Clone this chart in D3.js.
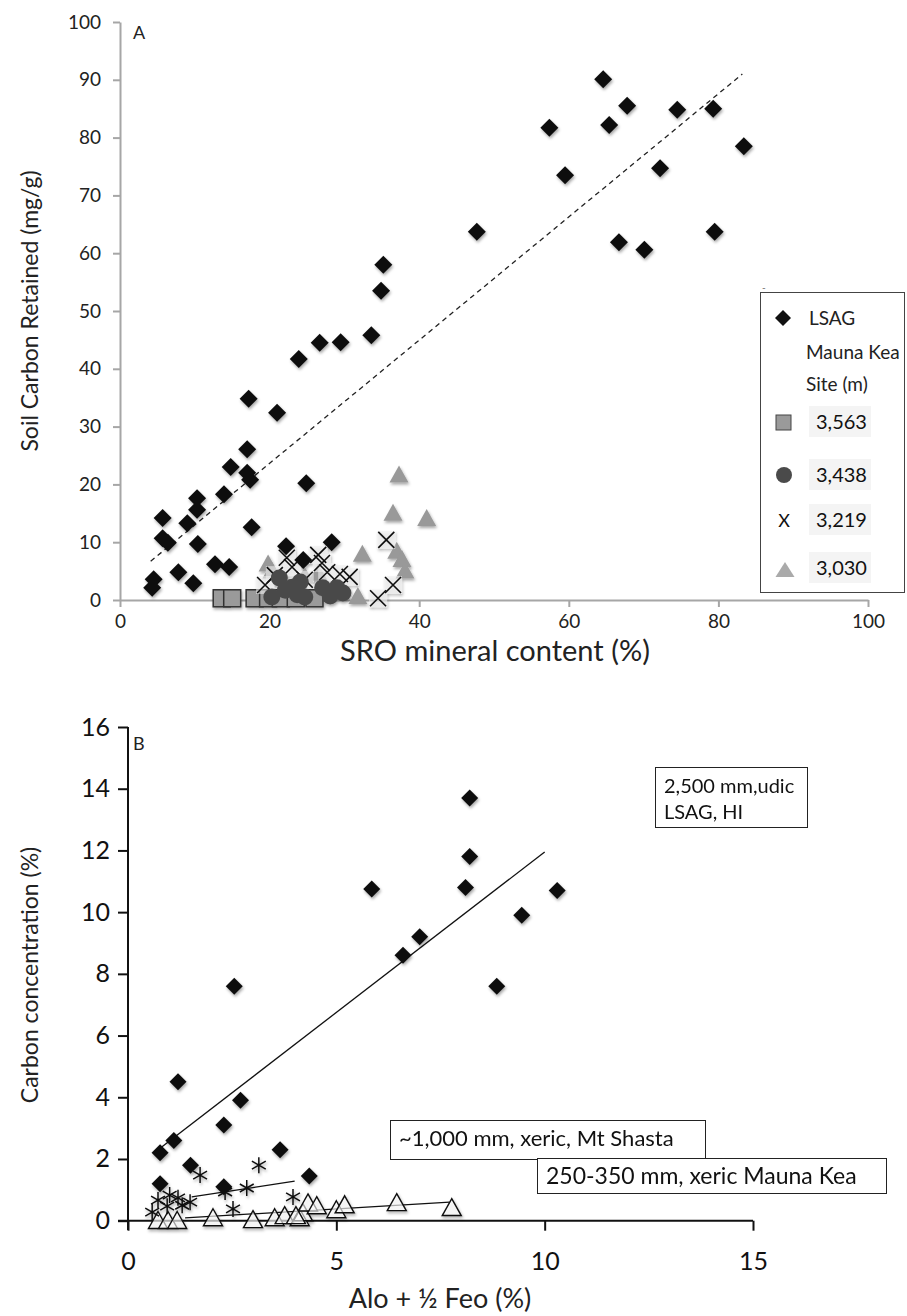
<!DOCTYPE html>
<meta charset="utf-8">
<title>Soil carbon vs SRO minerals</title>
<style>
  body { margin: 0; background: #fff; font-family: Lato, "Open Sans", sans-serif; }
  svg { display: block; }
  .tickA text { font-size: 19px; fill: #222; font-family: Lato, sans-serif; }
  .tickB text { font-size: 25px; fill: #111; font-family: Lato, sans-serif; }
</style>
<body>
<script src="https://cdn.jsdelivr.net/npm/d3@7"></script>
<script>
  // ---------- panel A data (SRO mineral %, carbon retained mg/g) ----------
  var lsagA = [
    [64.6,90.1],[67.8,85.5],[65.4,82.2],[57.4,81.7],[74.5,84.8],[79.3,85.0],[83.4,78.5],
    [59.5,73.5],[72.2,74.7],[47.7,63.7],[66.7,61.9],[70.1,60.6],[79.5,63.7],
    [35.2,58.0],[34.9,53.5],[33.6,45.8],[29.5,44.6],[26.7,44.5],[23.9,41.7],
    [17.2,34.8],[21.0,32.4],[17.0,26.1],[14.8,23.0],[17.0,22.0],[17.4,20.8],
    [13.9,18.3],[10.3,17.6],[10.3,15.6],[5.7,14.2],[9.0,13.3],[24.9,20.2],
    [17.6,12.6],[5.7,10.7],[6.4,9.9],[10.4,9.7],[7.8,4.8],[9.8,2.9],[12.7,6.2],
    [14.6,5.7],[4.3,2.1],[4.5,3.6],[22.2,9.3],[24.5,6.9],[28.3,10.0]
  ];
  var site3563 = [[13.6,0.3],[15.0,0.3],[18.0,0.3],[19.8,0.3],[21.5,0.3],[23.5,0.3],[26.0,0.3]];
  var site3438 = [[21.3,3.8],[20.3,0.5],[23.0,2.2],[24.1,3.1],[23.7,0.9],[24.7,0.5],
    [27.1,2.1],[29.0,2.1],[28.1,0.7],[29.8,1.2],[22.1,1.7]];
  var site3219 = [[19.4,2.6],[22.3,7.3],[23.0,5.7],[26.5,7.8],[27.0,6.4],[27.7,4.8],
    [29.4,4.5],[30.7,4.0],[35.6,10.4],[36.5,2.6],[34.5,0.3],[24.7,3.5],[20.7,4.3]];
  var site3030 = [[37.3,21.3],[36.5,14.7],[41.0,13.8],[32.4,7.6],[37.0,8.1],[37.7,6.7],
    [38.1,4.7],[31.8,0.3],[19.8,5.9],[20.3,4.7],[26.5,4.3],[24.7,3.8],[24.1,1.4],[29.4,1.7]];
  var trendA = [[4.1,6.7],[83.2,91.0]];
  var ticksAx = [0,20,40,60,80,100];
  var ticksAy = [0,10,20,30,40,50,60,70,80,90,100];
  var legendA = ["3,563","3,438","3,219","3,030"];

  // ---------- panel B data (Alo + 1/2 Feo %, carbon %) ----------
  var lsagB = [[8.2,13.7],[8.2,11.8],[8.1,10.8],[10.3,10.7],[5.85,10.75],[9.45,9.9],
    [7.0,9.2],[6.6,8.6],[8.85,7.6],[2.55,7.6],[1.2,4.5],[2.7,3.9],[2.3,3.1],[1.1,2.6],
    [0.77,2.2],[3.65,2.3],[1.5,1.8],[4.35,1.45],[0.77,1.2],[2.3,1.1]];
  var shastaB = [[1.73,1.48],[3.14,1.8],[2.85,1.06],[2.52,0.38],[3.96,0.77],[2.33,0.93],
    [1.2,0.74],[0.72,0.67],[0.58,0.28],[1.49,0.6],[0.94,0.47],[1.0,0.83],[1.3,0.5]];
  var maunaKeaB = [[0.72,-0.07],[0.96,-0.07],[1.18,-0.07],[2.04,0.02],[3.0,-0.04],
    [3.52,0.02],[3.76,0.09],[4.12,0.02],[4.2,0.18],[4.32,0.5],[4.03,0.09],[4.53,0.41],
    [5.0,0.28],[5.2,0.44],[6.45,0.51],[7.77,0.35]];
  var trendLsagB = [[0.77,2.35],[10.0,11.95]];
  var trendShastaB = [[1.53,0.77],[4.0,1.28]];
  var trendMaunaKeaB = [[1.37,0.09],[7.72,0.6]];
  var ticksBx = [0,5,10,15];
  var ticksBy = [0,2,4,6,8,10,12,14,16];

  var svg = d3.select("body").append("svg")
      .attr("width", 907)
      .attr("height", 1316);

  var defs = svg.append("defs");
  defs.append("filter").attr("id", "shadow")
      .attr("x", "-50%").attr("y", "-50%").attr("width", "200%").attr("height", "200%")
    .append("feDropShadow")
      .attr("dx", 1).attr("dy", 2).attr("stdDeviation", 1.6)
      .attr("flood-color", "#000").attr("flood-opacity", 0.35);

  // marker paths centred on 0,0
  function diamond(r) { return "M0," + (-r) + "L" + r + ",0L0," + r + "L" + (-r) + ",0Z"; }
  function triangle(w, h) { return "M0," + (-h * 2 / 3) + "L" + (w / 2) + "," + (h / 3) + "L" + (-w / 2) + "," + (h / 3) + "Z"; }
  function cross(r) { return "M" + (-r) + "," + (-r) + "L" + r + "," + r + "M" + r + "," + (-r) + "L" + (-r) + "," + r; }
  function asterisk(r) {
    var a = r * Math.sin(Math.PI / 3), b = r * Math.cos(Math.PI / 3);
    return "M0," + (-r) + "L0," + r + "M" + (-a) + "," + (-b) + "L" + a + "," + b + "M" + a + "," + (-b) + "L" + (-a) + "," + b;
  }

  // ================= PANEL A =================
  var xA = d3.scaleLinear().domain([0, 100]).range([120, 868]);
  var yA = d3.scaleLinear().domain([0, 100]).range([600, 22]);
  var gA = svg.append("g");

  gA.append("g").attr("class", "tickA")
      .attr("transform", "translate(0,600)")
      .call(d3.axisBottom(xA).tickValues(ticksAx).tickSize(7).tickSizeOuter(0).tickPadding(8))
      .call(function(g) {
        g.selectAll("path,line").attr("stroke", "#a6a6a6").attr("stroke-width", 2);
      });
  gA.append("g").attr("class", "tickA")
      .attr("transform", "translate(120,0)")
      .call(d3.axisLeft(yA).tickValues(ticksAy).tickSize(7).tickSizeOuter(0).tickPadding(12))
      .call(function(g) {
        g.selectAll("path,line").attr("stroke", "#a6a6a6").attr("stroke-width", 2);
      });

  gA.append("text").attr("x", 133).attr("y", 39).attr("font-size", 18).attr("fill", "#222").text("A");

  gA.append("text")
      .attr("transform", "translate(38,311) rotate(-90)")
      .attr("text-anchor", "middle").attr("font-size", 23).attr("fill", "#222")
      .text("Soil Carbon Retained (mg/g)");
  gA.append("text")
      .attr("x", 495).attr("y", 661)
      .attr("text-anchor", "middle").attr("font-size", 29).attr("fill", "#222")
      .text("SRO mineral content (%)");

  // trend (dashed)
  gA.append("path")
      .datum(trendA)
      .attr("d", d3.line().x(function(d) { return xA(d[0]); }).y(function(d) { return yA(d[1]); }))
      .attr("fill", "none").attr("stroke", "#222").attr("stroke-width", 1.3)
      .attr("stroke-dasharray", "5,4");

  var marksA = gA.append("g").attr("filter", "url(#shadow)");

  marksA.selectAll(".sq").data(site3563).enter().append("rect")
      .attr("x", function(d) { return xA(d[0]) - 8.5; })
      .attr("y", function(d) { return yA(d[1]) - 8.5; })
      .attr("width", 17).attr("height", 17)
      .attr("fill", "#9a9a9a").attr("stroke", "#333").attr("stroke-width", 1.5);

  marksA.selectAll(".tri").data(site3030).enter().append("path")
      .attr("transform", function(d) { return "translate(" + xA(d[0]) + "," + yA(d[1]) + ")"; })
      .attr("d", triangle(19, 17))
      .attr("fill", "#999");

  marksA.selectAll(".xbg").data(site3219).enter().append("rect")
      .attr("x", function(d) { return xA(d[0]) - 9; })
      .attr("y", function(d) { return yA(d[1]) - 9; })
      .attr("width", 18).attr("height", 18)
      .attr("fill", "#f0f0f0").attr("opacity", 0.6);
  marksA.selectAll(".x").data(site3219).enter().append("path")
      .attr("transform", function(d) { return "translate(" + xA(d[0]) + "," + yA(d[1]) + ")"; })
      .attr("d", cross(8))
      .attr("fill", "none").attr("stroke", "#111").attr("stroke-width", 1.6);

  marksA.selectAll(".ci").data(site3438).enter().append("circle")
      .attr("cx", function(d) { return xA(d[0]); })
      .attr("cy", function(d) { return yA(d[1]); })
      .attr("r", 8.5)
      .attr("fill", "#4a4a4a");

  marksA.selectAll(".di").data(lsagA).enter().append("path")
      .attr("transform", function(d) { return "translate(" + xA(d[0]) + "," + yA(d[1]) + ")"; })
      .attr("d", diamond(9))
      .attr("fill", "#111");

  // legend A
  var lg = gA.append("g");
  lg.append("rect").attr("x", 760.5).attr("y", 292.5).attr("width", 144).attr("height", 300)
      .attr("fill", "#fff").attr("stroke", "#444").attr("stroke-width", 1);
  lg.append("text").attr("x", 762).attr("y", 291).attr("font-size", 10).attr("fill", "#666").text("-");
  lg.append("path").attr("transform", "translate(783,318)").attr("d", diamond(8)).attr("fill", "#111");
  lg.append("text").attr("x", 809).attr("y", 325).attr("font-size", 19).attr("fill", "#222").text("LSAG");
  lg.append("text").attr("x", 806).attr("y", 359).attr("font-size", 19).attr("fill", "#222").text("Mauna Kea");
  lg.append("text").attr("x", 806).attr("y", 391).attr("font-size", 19).attr("fill", "#222").text("Site (m)");

  var legY = [422, 475, 520, 568];
  legendA.forEach(function(lab, i) {
    var cy = legY[i];
    lg.append("rect").attr("x", 809).attr("y", cy - 16).attr("width", 62).attr("height", 31).attr("fill", "#f4f4f4");
    lg.append("text").attr("x", 816).attr("y", cy + 7).attr("font-size", 20).attr("fill", "#111").text(lab);
  });
  lg.append("rect").attr("x", 776).attr("y", 415).attr("width", 15).attr("height", 15)
      .attr("fill", "#9a9a9a").attr("stroke", "#444").attr("stroke-width", 1);
  lg.append("circle").attr("cx", 784).attr("cy", 475).attr("r", 8).attr("fill", "#4a4a4a");
  lg.append("text").attr("x", 784).attr("y", 527).attr("text-anchor", "middle").attr("font-size", 18).attr("fill", "#111").text("X");
  lg.append("path").attr("transform", "translate(785,572)").attr("d", triangle(19, 15)).attr("fill", "#aaa");

  // ================= PANEL B =================
  var xB = d3.scaleLinear().domain([0, 15]).range([128, 753]);
  var yB = d3.scaleLinear().domain([0, 16]).range([1220.7, 727]);
  var gB = svg.append("g");

  gB.append("g").attr("class", "tickB")
      .attr("transform", "translate(0,1220.7)")
      .call(d3.axisBottom(xB).tickValues(ticksBx).tickSize(10).tickSizeOuter(0).tickPadding(22))
      .call(function(g) {
        g.selectAll("path,line").attr("stroke", "#111").attr("stroke-width", 2);
        g.select(".domain").attr("d", "M118,0H753");
      });
  gB.append("g").attr("class", "tickB")
      .attr("transform", "translate(128,0)")
      .call(d3.axisLeft(yB).tickValues(ticksBy).tickSize(10).tickSizeOuter(0).tickPadding(8))
      .call(function(g) {
        g.selectAll("path,line").attr("stroke", "#111").attr("stroke-width", 2);
        g.select(".domain").attr("d", "M0,727V1230");
      });

  gB.append("text").attr("x", 133).attr("y", 750).attr("font-size", 18).attr("fill", "#222").text("B");

  gB.append("text")
      .attr("transform", "translate(38,975) rotate(-90)")
      .attr("text-anchor", "middle").attr("font-size", 23).attr("fill", "#222")
      .text("Carbon concentration (%)");
  gB.append("text")
      .attr("x", 440).attr("y", 1308)
      .attr("text-anchor", "middle").attr("font-size", 27).attr("fill", "#222")
      .text("Alo + ½ Feo (%)");

  var lineB = d3.line().x(function(d) { return xB(d[0]); }).y(function(d) { return yB(d[1]); });
  [trendLsagB, trendShastaB, trendMaunaKeaB].forEach(function(t) {
    gB.append("path").datum(t).attr("d", lineB)
        .attr("fill", "none").attr("stroke", "#111").attr("stroke-width", 1.3);
  });

  var marksB = gB.append("g").attr("filter", "url(#shadow)");
  marksB.selectAll(".tri").data(maunaKeaB).enter().append("path")
      .attr("transform", function(d) { return "translate(" + xB(d[0]) + "," + yB(d[1]) + ")"; })
      .attr("d", triangle(19, 17))
      .attr("fill", "#fff").attr("fill-opacity", 0.6).attr("stroke", "#111").attr("stroke-width", 1.4);
  marksB.selectAll(".ast").data(shastaB).enter().append("path")
      .attr("transform", function(d) { return "translate(" + xB(d[0]) + "," + yB(d[1]) + ")"; })
      .attr("d", asterisk(8))
      .attr("fill", "none").attr("stroke", "#111").attr("stroke-width", 1.5);
  marksB.selectAll(".di").data(lsagB).enter().append("path")
      .attr("transform", function(d) { return "translate(" + xB(d[0]) + "," + yB(d[1]) + ")"; })
      .attr("d", diamond(8.5))
      .attr("fill", "#111");

  // annotation boxes
  function box(x, y, w, h, lines, fs) {
    gB.append("rect").attr("x", x + 0.5).attr("y", y + 0.5).attr("width", w).attr("height", h)
        .attr("fill", "#fff").attr("stroke", "#222").attr("stroke-width", 1);
    lines.forEach(function(s, i) {
      gB.append("text").attr("x", x + 9).attr("y", y + 26 + i * 26)
          .attr("font-size", fs).attr("fill", "#111").text(s);
    });
  }
  box(655, 767, 152, 60, ["2,500 mm,udic", "LSAG, HI"], 20);
  box(390, 1120, 315, 39, ["~1,000 mm, xeric, Mt Shasta"], 22);
  box(537, 1158, 349, 35, ["250-350 mm, xeric Mauna Kea"], 23);
</script>
</body>
